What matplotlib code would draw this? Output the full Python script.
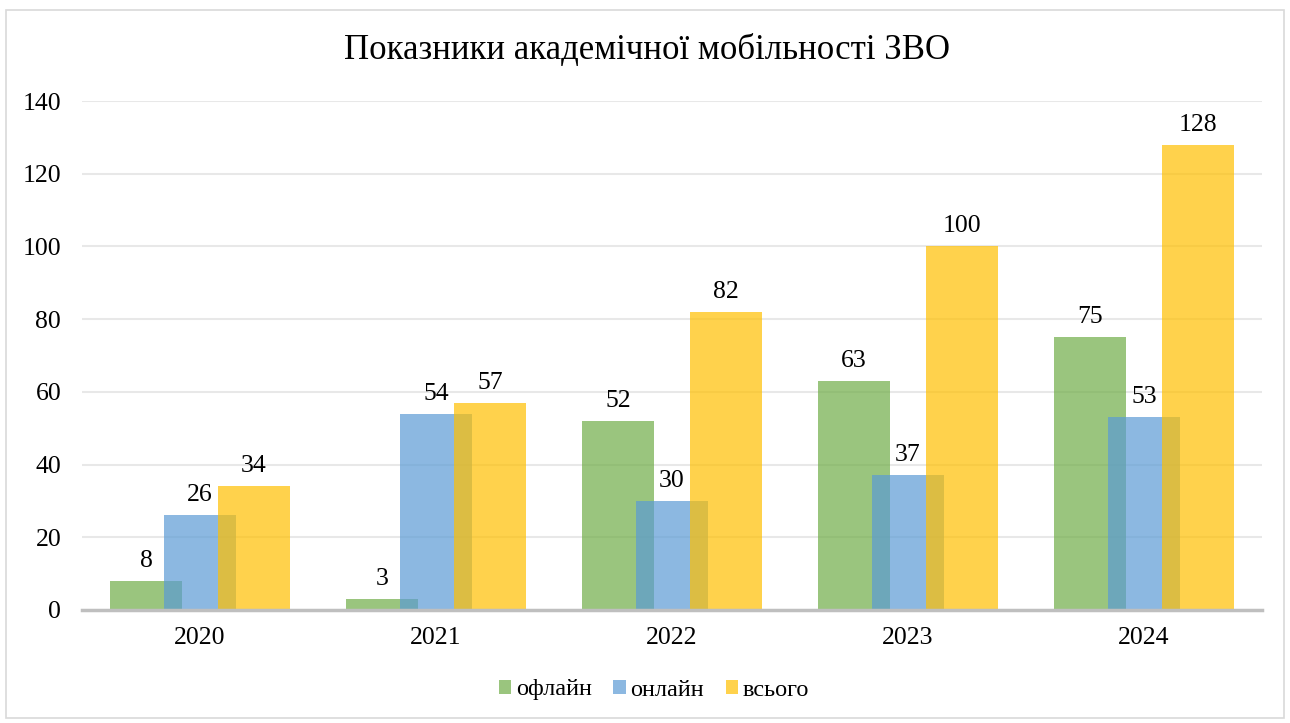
import matplotlib
matplotlib.use("Agg")
import matplotlib.pyplot as plt
from matplotlib.patches import Rectangle, Patch
import numpy as np

plt.rcParams['font.family'] = ['Liberation Serif', 'DejaVu Serif']

years = ["2020", "2021", "2022", "2023", "2024"]
offline = [8, 3, 52, 63, 75]
online = [26, 54, 30, 37, 53]
total = [34, 57, 82, 100, 128]
series_names = ["офлайн", "онлайн", "всього"]
title = "Показники академічної мобільності ЗВО"

colors = ["#70AD47", "#5B9BD5", "#FFC000"]
alpha = 0.7

fig = plt.figure(figsize=(12.9, 7.23), dpi=100)
ax = fig.add_axes([82/1290, 1-610/723, (1262-82)/1290, (610-101)/723])

x = np.arange(len(years))
width = 0.305
step = 0.229
for i, (vals, c) in enumerate(zip([offline, online, total], colors)):
    pos = x + (i - 1) * step
    ax.bar(pos, vals, width=width, color=c, alpha=alpha, zorder=2 + i, linewidth=0)
    for p, v in zip(pos, vals):
        ax.annotate(str(v), (p, v), xytext=(0, 6.5), textcoords="offset points",
                    ha="center", va="bottom", fontsize=18.5, color="#000000", zorder=10)

ax.set_xlim(-0.5, len(years) - 0.5)
ax.set_ylim(0, 140)
ax.set_yticks(range(0, 141, 20))
ax.set_xticks(x)
ax.set_xticklabels(years)
ax.tick_params(axis="both", length=0, labelsize=18.5, colors="#000000")
ax.tick_params(axis="y", pad=15)
ax.tick_params(axis="x", pad=12)
ax.yaxis.grid(True, color="#E8E8E8", linewidth=1.5, zorder=0)
ax.set_axisbelow(True)
for s in ["top", "right", "left"]:
    ax.spines[s].set_visible(False)
ax.spines["bottom"].set_color("#BFBFBF")
ax.spines["bottom"].set_linewidth(2.5)
ax.spines["bottom"].set_zorder(20)

fig.text(647/1290, 1 - 50/723, title, ha="center", va="center", fontsize=25)

handles = [Patch(facecolor=c, alpha=alpha, edgecolor="none") for c in colors]
fig.legend(handles, series_names, loc="center", bbox_to_anchor=(654/1290, 1 - 690/723),
           ncol=3, frameon=False, fontsize=17.5, handlelength=0.5, handleheight=0.5,
           handletextpad=0.2, columnspacing=0.9)

fig.patches.append(Rectangle((6/1290, 1 - 718/723), 1278/1290, 708/723, transform=fig.transFigure,
                             fill=False, edgecolor="#D9D9D9", linewidth=1.2))

fig.savefig("out.png", dpi=100)
